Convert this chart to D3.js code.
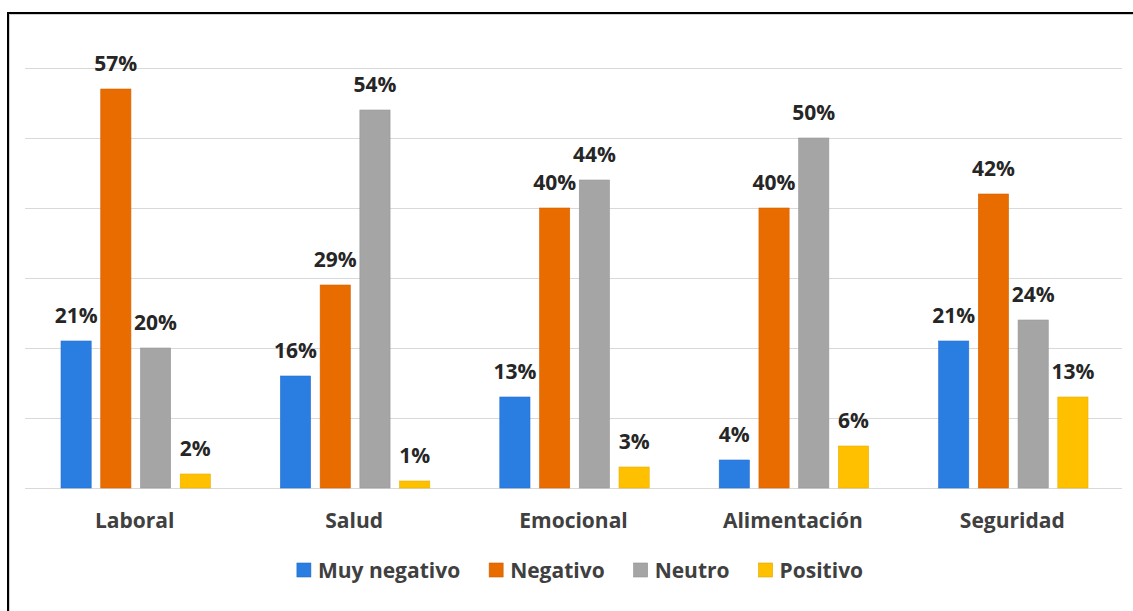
<!DOCTYPE html>
<html>
<head>
<meta charset="utf-8">
<script src="https://cdn.jsdelivr.net/npm/d3@7"></script>
<style>
  html, body { margin: 0; padding: 0; background: #fff; }
  svg { display: block; }
  text { font-family: "Open Sans", "DejaVu Sans", sans-serif; }
</style>
</head>
<body>
<svg id="chart" width="1133" height="611"></svg>
<script>
const categories = ["Laboral", "Salud", "Emocional", "Alimentación", "Seguridad"];
const seriesNames = ["Muy negativo", "Negativo", "Neutro", "Positivo"];
const muyNegativo = [21, 16, 13, 4, 21];
const negativo = [57, 29, 40, 40, 42];
const neutro = [20, 54, 44, 50, 24];
const positivo = [2, 1, 3, 6, 13];
const yTicks = [0, 10, 20, 30, 40, 50, 60];
const colors = ["#2A7DE1", "#E96C00", "#A5A5A5", "#FFC000"];

const seriesValues = [muyNegativo, negativo, neutro, positivo];
const svg = d3.select("#chart");

// outer frame (extends past the right/bottom edges)
svg.append("rect").attr("x", 9.5).attr("y", 14.5).attr("width", 1200).attr("height", 700)
  .attr("fill", "none").attr("stroke", "#d0d0d0").attr("stroke-width", 1);
svg.append("rect").attr("x", 8).attr("y", 13).attr("width", 1200).attr("height", 700)
  .attr("fill", "none").attr("stroke", "#000").attr("stroke-width", 2);

const plot = { left: 25, right: 1122, top: 68, bottom: 488 };

const y = d3.scaleLinear().domain([0, 60]).range([plot.bottom, plot.top]);
const x0 = d3.scaleBand().domain(categories).range([plot.left, plot.right]).paddingInner(0).paddingOuter(0);
const x1 = d3.scaleBand().domain(seriesNames).range([36, x0.bandwidth() - 34]).paddingInner(0.24).paddingOuter(0);

// gridlines
svg.append("g").selectAll("line").data(yTicks).join("line")
  .attr("x1", plot.left).attr("x2", plot.right)
  .attr("y1", d => Math.round(y(d)) + 0.5).attr("y2", d => Math.round(y(d)) + 0.5)
  .attr("stroke", "#D9D9D9").attr("stroke-width", 1);

// bars
const groups = svg.append("g").selectAll("g").data(categories).join("g")
  .attr("transform", d => `translate(${x0(d)},0)`);

groups.each(function(cat, ci) {
  const g = d3.select(this);
  seriesNames.forEach((s, si) => {
    const v = seriesValues[si][ci];
    g.append("rect")
      .attr("x", x1(s)).attr("width", x1.bandwidth())
      .attr("y", y(v)).attr("height", y(0) - y(v))
      .attr("fill", colors[si])
      .attr("stroke", d3.color(colors[si]).darker(0.25)).attr("stroke-width", 0.6);
    g.append("text")
      .attr("x", x1(s) + x1.bandwidth() / 2)
      .attr("y", y(v) - 18)
      .attr("text-anchor", "middle")
      .attr("font-size", 21).attr("font-weight", 700)
      .attr("fill", "#262626")
      .text(v + "%");
  });
});

// category axis labels
svg.append("g").selectAll("text").data(categories).join("text")
  .attr("x", d => x0(d) + x0.bandwidth() / 2)
  .attr("y", 528)
  .attr("text-anchor", "middle")
  .attr("font-size", 21).attr("font-weight", 700)
  .attr("fill", "#404040")
  .text(d => d);

// legend
const legend = svg.append("g");
const items = legend.selectAll("g").data(seriesNames).join("g");
items.append("rect").attr("width", 14).attr("height", 14).attr("y", 563)
  .attr("fill", (d, i) => colors[i])
  .attr("stroke", (d, i) => d3.color(colors[i]).darker(0.4)).attr("stroke-width", 0.6);
items.append("text").attr("x", 21).attr("y", 578)
  .attr("font-size", 21).attr("font-weight", 700).attr("fill", "#404040")
  .text(d => d);
let widths = [];
items.each(function() { widths.push(21 + d3.select(this).select("text").node().getComputedTextLength()); });
const gap = 29;
const total = d3.sum(widths) + gap * (widths.length - 1);
let cx = 580 - total / 2;
items.attr("transform", (d, i) => {
  const t = `translate(${cx},0)`;
  cx += widths[i] + gap;
  return t;
});
</script>
</body>
</html>
